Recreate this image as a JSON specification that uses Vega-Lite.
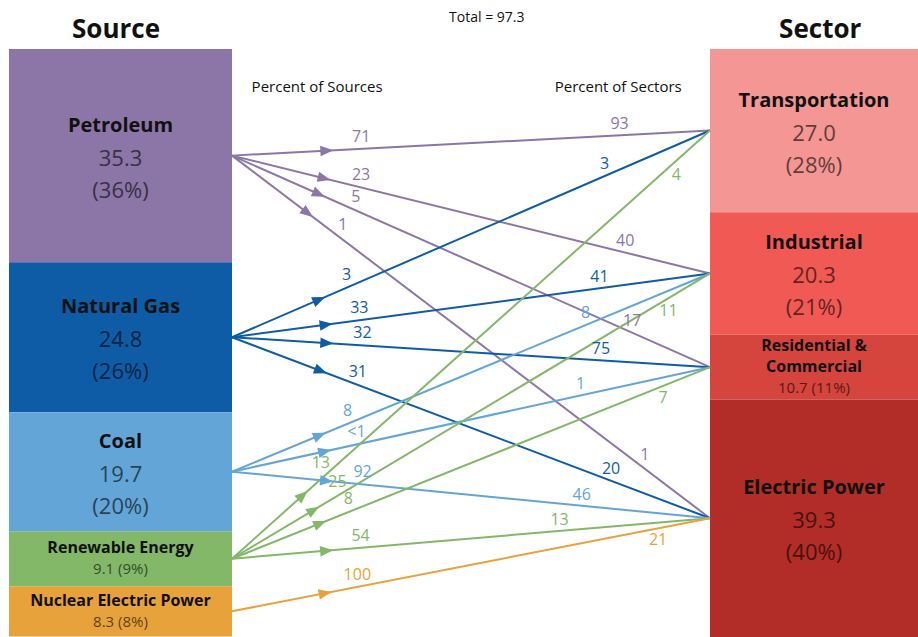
{
  "$schema": "https://vega.github.io/schema/vega-lite/v6.json",
  "width": 918,
  "height": 637,
  "padding": 0,
  "autosize": {"type": "fit", "contains": "padding"},
  "background": "white",
  "config": {"view": {"stroke": null}, "text": {"font": "Open Sans"}},
  "data": {"values": [
    {"kind": "node", "side": "Source", "name": "Petroleum", "value": 35.3, "share": 36},
    {"kind": "node", "side": "Source", "name": "Natural Gas", "value": 24.8, "share": 26},
    {"kind": "node", "side": "Source", "name": "Coal", "value": 19.7, "share": 20},
    {"kind": "node", "side": "Source", "name": "Renewable Energy", "value": 9.1, "share": 9},
    {"kind": "node", "side": "Source", "name": "Nuclear Electric Power", "value": 8.3, "share": 8},
    {"kind": "node", "side": "Sector", "name": "Transportation", "value": 27.0, "share": 28},
    {"kind": "node", "side": "Sector", "name": "Industrial", "value": 20.3, "share": 21},
    {"kind": "node", "side": "Sector", "name": "Residential & Commercial", "value": 10.7, "share": 11},
    {"kind": "node", "side": "Sector", "name": "Electric Power", "value": 39.3, "share": 40},
    {"kind": "flow", "source": "Petroleum", "sector": "Transportation", "pctSource": "71", "pctSector": "93"},
    {"kind": "flow", "source": "Petroleum", "sector": "Industrial", "pctSource": "23", "pctSector": "40"},
    {"kind": "flow", "source": "Petroleum", "sector": "Residential & Commercial", "pctSource": "5", "pctSector": "17"},
    {"kind": "flow", "source": "Petroleum", "sector": "Electric Power", "pctSource": "1", "pctSector": "1"},
    {"kind": "flow", "source": "Natural Gas", "sector": "Transportation", "pctSource": "3", "pctSector": "3"},
    {"kind": "flow", "source": "Natural Gas", "sector": "Industrial", "pctSource": "33", "pctSector": "41"},
    {"kind": "flow", "source": "Natural Gas", "sector": "Residential & Commercial", "pctSource": "32", "pctSector": "75"},
    {"kind": "flow", "source": "Natural Gas", "sector": "Electric Power", "pctSource": "31", "pctSector": "20"},
    {"kind": "flow", "source": "Coal", "sector": "Industrial", "pctSource": "8", "pctSector": "8"},
    {"kind": "flow", "source": "Coal", "sector": "Residential & Commercial", "pctSource": "<1", "pctSector": "1"},
    {"kind": "flow", "source": "Coal", "sector": "Electric Power", "pctSource": "92", "pctSector": "46"},
    {"kind": "flow", "source": "Renewable Energy", "sector": "Transportation", "pctSource": "13", "pctSector": "4"},
    {"kind": "flow", "source": "Renewable Energy", "sector": "Industrial", "pctSource": "25", "pctSector": "11"},
    {"kind": "flow", "source": "Renewable Energy", "sector": "Residential & Commercial", "pctSource": "8", "pctSector": "7"},
    {"kind": "flow", "source": "Renewable Energy", "sector": "Electric Power", "pctSource": "54", "pctSector": "13"},
    {"kind": "flow", "source": "Nuclear Electric Power", "sector": "Electric Power", "pctSource": "100", "pctSector": "21"}
  ]},
  "transform": [
    {"window": [{"op": "row_number", "as": "idx"}]},
    {"calculate": "datum.kind === 'node' ? datum.value : 0", "as": "v"},
    {"stack": "v", "groupby": ["side"], "sort": [{"field": "idx", "order": "ascending"}], "as": ["y0", "y1"]},
    {"calculate": "datum.kind === 'node' ? (datum.y0 + datum.y1) / 2 : null", "as": "mid"},
    {"calculate": "datum.kind === 'node' ? datum.name : datum.source", "as": "keyS"},
    {"joinaggregate": [{"op": "max", "field": "mid", "as": "ys"}], "groupby": ["keyS"]},
    {"calculate": "datum.kind === 'node' ? datum.name : datum.sector", "as": "keyE"},
    {"joinaggregate": [{"op": "max", "field": "mid", "as": "ye"}], "groupby": ["keyE"]},
    {"calculate": "datum.kind === 'flow' ? datum.ys : null", "as": "ysf"},
    {"joinaggregate": [{"op": "max", "field": "ysf", "as": "ysmax"}], "groupby": ["keyE"]},
    {"window": [{"op": "row_number", "as": "rk"}], "groupby": ["keyE"], "sort": [{"field": "kind", "order": "ascending"}, {"field": "ys", "order": "ascending"}]},
    {"calculate": "(datum.ye - datum.ys) * 637 / 105.4", "as": "dyp"},
    {"calculate": "sqrt(478 * 478 + datum.dyp * datum.dyp)", "as": "len"},
    {"calculate": "478 / datum.len", "as": "ux"},
    {"calculate": "datum.dyp / datum.len", "as": "uy"},
    {"calculate": "atan2(datum.dyp, 478) * 180 / PI", "as": "ang"},
    {"calculate": "95 / datum.len", "as": "tA"},
    {"calculate": "1 + datum.tA", "as": "ax"},
    {"calculate": "datum.ys + datum.tA * (datum.ye - datum.ys)", "as": "ay"},
    {"calculate": "130 / datum.len", "as": "tS"},
    {"calculate": "1 + datum.tS + datum.uy * 12 / 478", "as": "slx"},
    {"calculate": "datum.ys + datum.tS * (datum.ye - datum.ys) - datum.ux * 12 * 105.4 / 637", "as": "sly"},
    {"calculate": "datum.ys === datum.ysmax ? -1 : 1", "as": "sgn"},
    {"calculate": "datum.sgn < 0 ? 55 : 90 + 20 * (datum.rk - 1)", "as": "E"},
    {"calculate": "1 - datum.E / datum.len", "as": "tE"},
    {"calculate": "1 + datum.tE + datum.sgn * datum.uy * 11 / 478", "as": "elx"},
    {"calculate": "datum.ys + datum.tE * (datum.ye - datum.ys) - datum.sgn * datum.ux * 11 * 105.4 / 637", "as": "ely"},
    {"calculate": "datum.side === 'Source' ? 0 : 2", "as": "xa"},
    {"calculate": "datum.xa + 1", "as": "xb"},
    {"calculate": "datum.xa + 0.5", "as": "xc"},
    {"calculate": "datum.kind === 'node' ? format(datum.value, '.1f') : ''", "as": "valTxt"},
    {"calculate": "'(' + datum.share + '%)'", "as": "pctTxt"},
    {"calculate": "datum.valTxt + ' (' + datum.share + '%)'", "as": "smallTxt"},
    {"calculate": "datum.kind === 'node' ? replace(datum.name, '& ', '&\\n') : ''", "as": "nameLines"},
    {"calculate": "datum.kind === 'node' && datum.name !== replace(datum.name, '&', '') ? 2 : 1", "as": "nl"},
    {"calculate": "datum.kind === 'node' ? datum.mid - datum.nl * 10.5 * 105.4 / 637 : null", "as": "yn"},
    {"calculate": "datum.kind === 'node' ? datum.mid + datum.nl * 10.5 * 105.4 / 637 : null", "as": "yv"}
  ],
  "layer": [
    {
      "transform": [{"filter": "datum.kind === 'node'"}],
      "mark": {"type": "rect"},
      "encoding": {
        "x": {"field": "xa", "type": "quantitative", "axis": null, "scale": {"domain": [0, 1, 2, 3], "range": [9, 232, 710, 918], "nice": false, "zero": false}},
        "x2": {"field": "xb"},
        "y": {"field": "y0", "type": "quantitative", "axis": null, "scale": {"domain": [-8.1, 97.3], "reverse": true, "nice": false, "zero": false}},
        "y2": {"field": "y1"},
        "color": {"field": "name", "type": "nominal", "legend": null,
          "scale": {"domain": ["Petroleum", "Natural Gas", "Coal", "Renewable Energy", "Nuclear Electric Power", "Transportation", "Industrial", "Residential & Commercial", "Electric Power"],
                    "range": ["#8C76A8", "#0F5CA6", "#64A5D8", "#82B868", "#E8A23B", "#F39694", "#F15A54", "#D5443D", "#B22D27"]}}
      }
    },
    {
      "transform": [{"filter": "datum.kind === 'flow'"}],
      "mark": {"type": "rule", "strokeWidth": 2},
      "encoding": {
        "x": {"datum": 1, "type": "quantitative"},
        "x2": {"datum": 2},
        "y": {"field": "ys", "type": "quantitative"},
        "y2": {"field": "ye"},
        "color": {"field": "source", "type": "nominal", "legend": null}
      }
    },
    {
      "transform": [{"filter": "datum.kind === 'flow'"}],
      "mark": {"type": "point", "shape": "M-1,-0.8L1,0L-1,0.8Z", "filled": true, "size": 170, "opacity": 1},
      "encoding": {
        "x": {"field": "ax", "type": "quantitative"},
        "y": {"field": "ay", "type": "quantitative"},
        "angle": {"field": "ang", "type": "quantitative", "scale": null},
        "color": {"field": "source", "type": "nominal", "legend": null}
      }
    },
    {
      "transform": [{"filter": "datum.kind === 'flow'"}],
      "mark": {"type": "text", "fontSize": 16, "align": "center", "baseline": "middle"},
      "encoding": {
        "x": {"field": "slx", "type": "quantitative"},
        "y": {"field": "sly", "type": "quantitative"},
        "text": {"field": "pctSource", "type": "nominal"},
        "color": {"field": "source", "type": "nominal", "legend": null}
      }
    },
    {
      "transform": [{"filter": "datum.kind === 'flow'"}],
      "mark": {"type": "text", "fontSize": 16, "align": "center", "baseline": "middle"},
      "encoding": {
        "x": {"field": "elx", "type": "quantitative"},
        "y": {"field": "ely", "type": "quantitative"},
        "text": {"field": "pctSector", "type": "nominal"},
        "color": {"field": "source", "type": "nominal", "legend": null}
      }
    },
    {
      "transform": [{"filter": "datum.kind === 'node' && datum.value > 15"}],
      "mark": {"type": "text", "fontSize": 20, "fontWeight": "bold", "color": "#111", "dy": -30, "align": "center", "baseline": "middle"},
      "encoding": {
        "x": {"field": "xc", "type": "quantitative"},
        "y": {"field": "mid", "type": "quantitative"},
        "text": {"field": "name", "type": "nominal"}
      }
    },
    {
      "transform": [{"filter": "datum.kind === 'node' && datum.value > 15"}],
      "mark": {"type": "text", "fontSize": 22, "color": "#000", "opacity": 0.6, "dy": 3, "align": "center", "baseline": "middle"},
      "encoding": {
        "x": {"field": "xc", "type": "quantitative"},
        "y": {"field": "mid", "type": "quantitative"},
        "text": {"field": "valTxt", "type": "nominal"}
      }
    },
    {
      "transform": [{"filter": "datum.kind === 'node' && datum.value > 15"}],
      "mark": {"type": "text", "fontSize": 22, "color": "#000", "opacity": 0.6, "dy": 35, "align": "center", "baseline": "middle"},
      "encoding": {
        "x": {"field": "xc", "type": "quantitative"},
        "y": {"field": "mid", "type": "quantitative"},
        "text": {"field": "pctTxt", "type": "nominal"}
      }
    },
    {
      "transform": [{"filter": "datum.kind === 'node' && datum.value <= 15"}],
      "mark": {"type": "text", "fontSize": 16, "fontWeight": "bold", "color": "#111", "lineBreak": "\n", "lineHeight": 21, "align": "center", "baseline": "middle"},
      "encoding": {
        "x": {"field": "xc", "type": "quantitative"},
        "y": {"field": "yn", "type": "quantitative"},
        "text": {"field": "nameLines", "type": "nominal"}
      }
    },
    {
      "transform": [{"filter": "datum.kind === 'node' && datum.value <= 15"}],
      "mark": {"type": "text", "fontSize": 15, "color": "#000", "opacity": 0.6, "align": "center", "baseline": "middle"},
      "encoding": {
        "x": {"field": "xc", "type": "quantitative"},
        "y": {"field": "yv", "type": "quantitative"},
        "text": {"field": "smallTxt", "type": "nominal"}
      }
    },
    {
      "transform": [{"filter": "datum.idx === 1"}],
      "mark": {"type": "text", "fontSize": 26, "fontWeight": "bold", "color": "#111", "align": "center", "baseline": "middle", "text": "Source"},
      "encoding": {"x": {"datum": 0.48, "type": "quantitative"}, "y": {"datum": -3.1, "type": "quantitative"}}
    },
    {
      "transform": [{"filter": "datum.idx === 1"}],
      "mark": {"type": "text", "fontSize": 26, "fontWeight": "bold", "color": "#111", "align": "center", "baseline": "middle", "text": "Sector"},
      "encoding": {"x": {"datum": 2.53, "type": "quantitative"}, "y": {"datum": -3.1, "type": "quantitative"}}
    },
    {
      "transform": [{"filter": "datum.idx === 1"}],
      "mark": {"type": "text", "fontSize": 14, "color": "#111", "align": "center", "baseline": "middle", "text": "Total = 97.3"},
      "encoding": {"x": {"datum": 1.533, "type": "quantitative"}, "y": {"datum": -5.1, "type": "quantitative"}}
    },
    {
      "transform": [{"filter": "datum.idx === 1"}],
      "mark": {"type": "text", "fontSize": 15, "color": "#111", "align": "center", "baseline": "middle", "text": "Percent of Sources"},
      "encoding": {"x": {"datum": 1.178, "type": "quantitative"}, "y": {"datum": 6.3, "type": "quantitative"}}
    },
    {
      "transform": [{"filter": "datum.idx === 1"}],
      "mark": {"type": "text", "fontSize": 15, "color": "#111", "align": "center", "baseline": "middle", "text": "Percent of Sectors"},
      "encoding": {"x": {"datum": 1.808, "type": "quantitative"}, "y": {"datum": 6.3, "type": "quantitative"}}
    }
  ]
}
